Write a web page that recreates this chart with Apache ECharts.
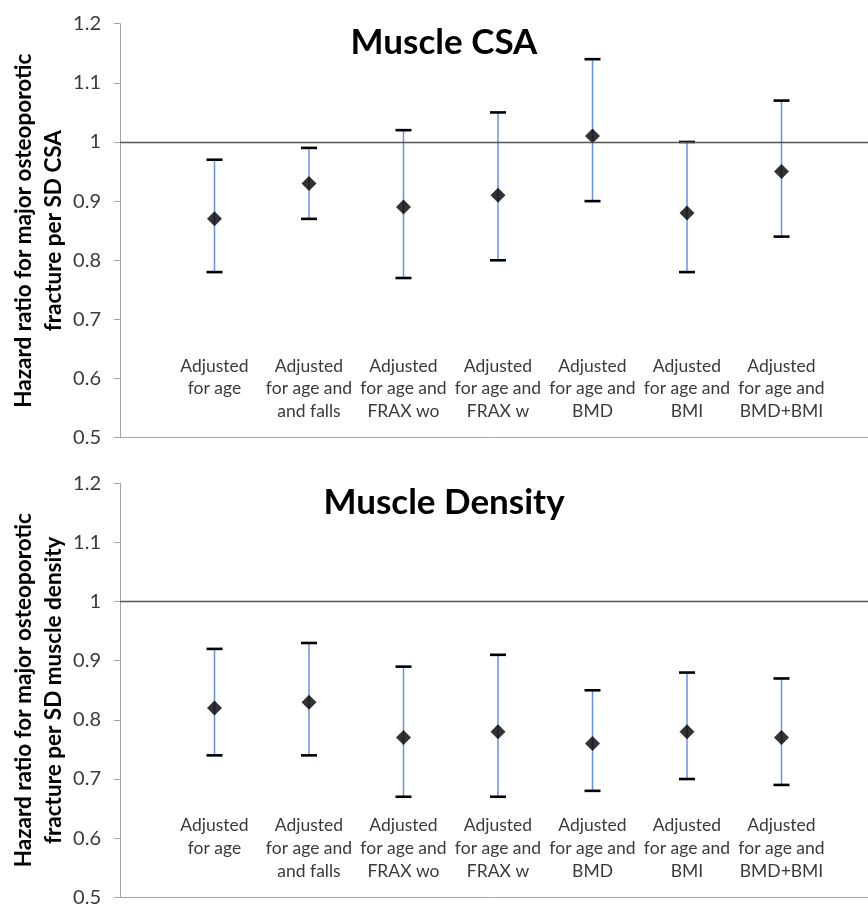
<!DOCTYPE html>
<html>
<head>
<meta charset="utf-8">
<script src="https://cdn.jsdelivr.net/npm/echarts@6/dist/echarts.min.js"></script>
<style>
html,body{margin:0;padding:0;background:#fff;}
#c{width:868px;height:904px;}
</style>
</head>
<body>
<div id="c"></div>
<script>
// Category labels
const categories = [
  "Adjusted\nfor age",
  "Adjusted\nfor age and\nand falls",
  "Adjusted\nfor age and\nFRAX wo",
  "Adjusted\nfor age and\nFRAX w",
  "Adjusted\nfor age and\nBMD",
  "Adjusted\nfor age and\nBMI",
  "Adjusted\nfor age and\nBMD+BMI"
];
const categoryPositions = [1, 2, 3, 4, 5, 6, 7];

// Muscle CSA
const csaHR    = [0.87, 0.93, 0.89, 0.91, 1.01, 0.88, 0.95];
const csaLower = [0.78, 0.87, 0.77, 0.80, 0.90, 0.78, 0.84];
const csaUpper = [0.97, 0.99, 1.02, 1.05, 1.14, 1.00, 1.07];

// Muscle Density
const denHR    = [0.82, 0.83, 0.77, 0.78, 0.76, 0.78, 0.77];
const denLower = [0.74, 0.74, 0.67, 0.67, 0.68, 0.70, 0.69];
const denUpper = [0.92, 0.93, 0.89, 0.91, 0.85, 0.88, 0.87];

const yTicks = [0.5, 0.6, 0.7, 0.8, 0.9, 1.0, 1.1, 1.2];
const referenceLine = 1;

const titles = ["Muscle CSA", "Muscle Density"];
const yTitles = [
  "Hazard ratio for major osteoporotic\nfracture per SD CSA",
  "Hazard ratio for major osteoporotic\nfracture per SD muscle density"
];

const FONT = 'Lato, "Noto Sans", sans-serif';
const axisGray = '#a6a6a6';
const textGray = '#3a3a3a';

function errRender(params, api) {
  const x = api.value(0), lo = api.value(1), hi = api.value(2);
  const pLo = api.coord([x, lo]);
  const pHi = api.coord([x, hi]);
  const hw = 8;
  return {
    type: 'group',
    children: [
      {type: 'line', shape: {x1: pLo[0], y1: pLo[1], x2: pHi[0], y2: pHi[1]},
       style: {stroke: '#6793de', lineWidth: 1.5}},
      {type: 'line', shape: {x1: pHi[0] - hw, y1: pHi[1], x2: pHi[0] + hw, y2: pHi[1]},
       style: {stroke: '#000', lineWidth: 2.6}},
      {type: 'line', shape: {x1: pLo[0] - hw, y1: pLo[1], x2: pLo[0] + hw, y2: pLo[1]},
       style: {stroke: '#000', lineWidth: 2.6}}
    ]
  };
}

const grids = [
  {left: 120, width: 756, top: 23.7, height: 414, outerBoundsMode: 'none', containLabel: false},
  {left: 120, width: 756, top: 483.3, height: 414, outerBoundsMode: 'none', containLabel: false}
];

const xAxes = [];
const yAxes = [];
const series = [];
const panels = [
  {hr: csaHR, lo: csaLower, hi: csaUpper},
  {hr: denHR, lo: denLower, hi: denUpper}
];

panels.forEach((p, g) => {
  xAxes.push({
    type: 'value', gridIndex: g, min: 0, max: 8, interval: 1, position: 'bottom',
    axisLine: {show: true, onZero: false, lineStyle: {color: axisGray, width: 1}},
    axisTick: {show: false}, axisLabel: {show: false}, splitLine: {show: false}
  });
  xAxes.push({
    type: 'value', gridIndex: g, min: 0, max: 8, interval: 1, position: 'bottom', offset: -83,
    axisLine: {show: false}, axisTick: {show: false}, splitLine: {show: false},
    axisLabel: {
      show: true, margin: 0, color: textGray, fontFamily: FONT, fontSize: 17.5,
      lineHeight: 22.7, align: 'center', hideOverlap: false,
      formatter: v => {
        const i = categoryPositions.indexOf(v);
        return i >= 0 ? categories[i] : '';
      }
    }
  });
  yAxes.push({
    type: 'value', gridIndex: g, min: yTicks[0], max: yTicks[yTicks.length - 1], interval: 0.1,
    axisLine: {show: true, onZero: false, lineStyle: {color: axisGray, width: 1}},
    axisTick: {show: true, length: 6, inside: false, lineStyle: {color: axisGray}},
    splitLine: {show: false},
    axisLabel: {
      color: textGray, fontFamily: FONT, fontSize: 20, margin: 19,
      formatter: v => String(Math.round(v * 10) / 10)
    },
    name: yTitles[g], nameLocation: 'middle', nameRotate: 90, nameGap: 51,
    nameMoveOverlap: false,
    nameTextStyle: {fontFamily: FONT, fontWeight: 'bold', fontSize: 22.5, lineHeight: 30, color: '#000', align: 'center'}
  });
  series.push({
    type: 'custom', xAxisIndex: g * 2, yAxisIndex: g, z: 2,
    renderItem: errRender,
    encode: {x: 0, y: [1, 2]},
    data: categoryPositions.map((x, i) => [x, p.lo[i], p.hi[i]]),
    markLine: {
      silent: true, symbol: 'none', label: {show: false},
      lineStyle: {color: '#555555', width: 1.4, type: 'solid'},
      data: [{yAxis: referenceLine}]
    }
  });
  series.push({
    type: 'scatter', xAxisIndex: g * 2, yAxisIndex: g, z: 3,
    symbol: 'diamond', symbolSize: 15,
    itemStyle: {color: '#000'},
    data: categoryPositions.map((x, i) => [x, p.hr[i]])
  });
});

const chart = echarts.init(document.getElementById('c'), null, {renderer: 'canvas'});
chart.setOption({
  animation: false,
  backgroundColor: '#fff',
  title: [
    {text: titles[0], left: 439, top: 20, textAlign: 'center',
     textStyle: {fontFamily: FONT, fontWeight: 'bold', fontSize: 35, color: '#000'}},
    {text: titles[1], left: 439, top: 480, textAlign: 'center',
     textStyle: {fontFamily: FONT, fontWeight: 'bold', fontSize: 35, color: '#000'}}
  ],
  grid: grids,
  xAxis: xAxes,
  yAxis: yAxes,
  series: series
});
</script>
</body>
</html>
